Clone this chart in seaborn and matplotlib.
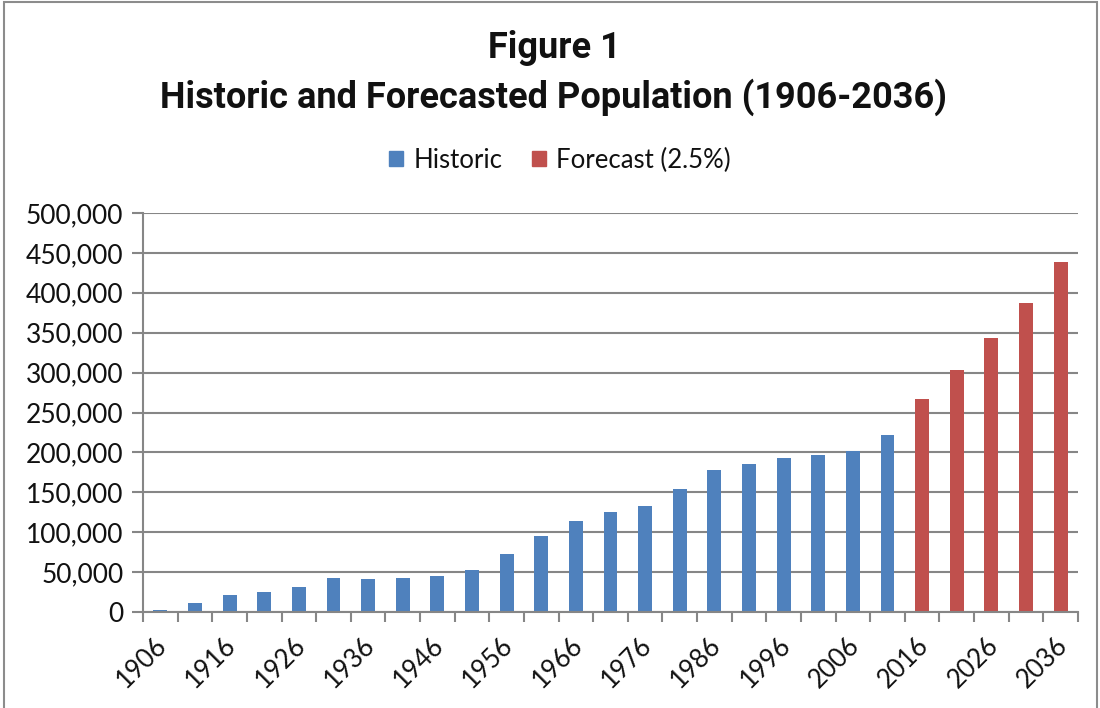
import matplotlib
matplotlib.use("Agg")
import matplotlib.pyplot as plt
import matplotlib.patches as mpatches
from matplotlib.ticker import FuncFormatter, FixedLocator
from matplotlib.transforms import ScaledTranslation
import seaborn as sns
import pandas as pd

years = [str(y) for y in range(1906, 2037, 5)]
historic = [2500, 11800, 20700, 25300, 30800, 43100, 41400, 42700, 45600, 53200,
            72200, 95000, 114400, 125800, 133400, 153700, 177800, 185800, 193000,
            196400, 201900, 221700]
forecast = [267300, 302800, 342900, 387700, 438300]
series_names = ["Historic", "Forecast (2.5%)"]
colors = ["#4F81BD", "#C0504D"]

values = historic + forecast
series = [series_names[0]] * len(historic) + [series_names[1]] * len(forecast)
df = pd.DataFrame({"year": years, "population": values, "series": series})

sns.set_theme(style="white")
plt.rcParams["font.family"] = ["Lato", "DejaVu Sans"]

fig = plt.figure(figsize=(11, 7.08), dpi=100)
ax = fig.add_axes([143 / 1100, 1 - 612 / 708, (1078 - 143) / 1100, (612 - 213) / 708])

sns.barplot(data=df, x="year", y="population", hue="series", order=years,
            hue_order=series_names, palette=colors, dodge=False, width=0.4,
            saturation=1, ax=ax, legend=False, edgecolor="none")

ax.set_xlim(-0.5, len(years) - 0.5)
ax.set_ylim(0, 500000)
ax.set_yticks(range(0, 500001, 50000))
ax.yaxis.set_major_formatter(FuncFormatter(lambda v, p: f"{int(v):,}"))
ax.yaxis.grid(True, color="#868686", linewidth=1.5)
ax.set_axisbelow(True)

ax.set_xticks(range(0, len(years), 2))
ax.set_xticklabels(years[::2], rotation=45, ha="right", rotation_mode="anchor")
ax.xaxis.set_minor_locator(FixedLocator([i - 0.5 for i in range(len(years) + 1)]))
ax.tick_params(axis="x", which="major", length=0, pad=15, labelsize=18.5, colors="#111111")
ax.tick_params(axis="x", which="minor", length=7, width=1.5, color="#868686", bottom=True)
ax.tick_params(axis="y", length=8, width=1.5, color="#868686", left=True, labelsize=19,
               labelcolor="#111111", pad=6)
offset = ScaledTranslation(-6 / 100, 0, fig.dpi_scale_trans)
for lab in ax.get_xticklabels():
    lab.set_transform(lab.get_transform() + offset)
for s in ["top", "right"]:
    ax.spines[s].set_visible(False)
for s in ["left", "bottom"]:
    ax.spines[s].set_color("#868686")
    ax.spines[s].set_linewidth(1.5)
ax.set_xlabel("")
ax.set_ylabel("")

handles = [mpatches.Patch(color=c, label=n) for c, n in zip(colors, series_names)]
fig.legend(handles=handles, loc="center", bbox_to_anchor=(560 / 1100, 1 - 160 / 708), ncol=2,
           frameon=False, fontsize=18.5, handlelength=0.55, handleheight=0.55,
           handletextpad=0.4, columnspacing=1.15, labelcolor="#111111")

title_font = ["Roboto", "DejaVu Sans"]
fig.text(554 / 1100, 1 - 48 / 708, "Figure 1", ha="center", va="center", fontsize=26,
         fontweight="bold", family=title_font, color="#111111")
fig.text(554 / 1100, 1 - 97 / 708, "Historic and Forecasted Population (1906-2036)",
         ha="center", va="center", fontsize=26, fontweight="bold", family=title_font,
         color="#111111")

border = mpatches.Rectangle((4 / 1100, -0.05), 1093 / 1100, 1.05 - 2 / 708, transform=fig.transFigure,
                            fill=False, edgecolor="#8c8c8c", linewidth=1.5)
fig.patches.append(border)

fig.savefig("out.png", dpi=100)
